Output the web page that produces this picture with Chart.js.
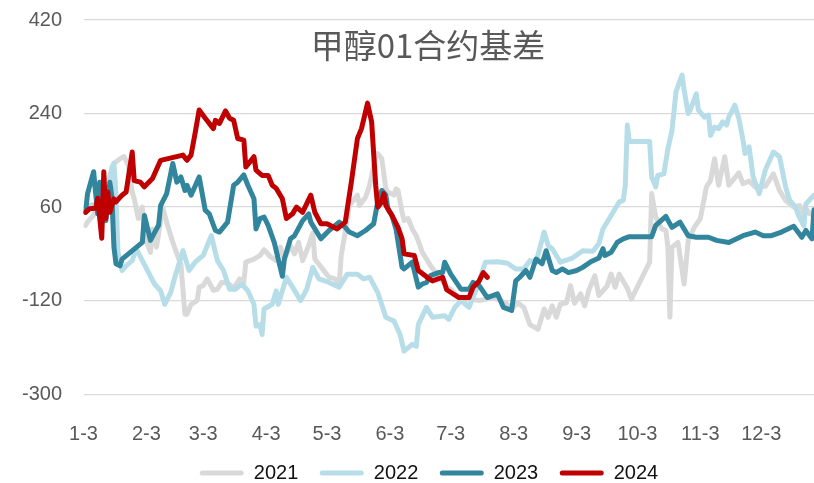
<!DOCTYPE html>
<html>
<head>
<meta charset="utf-8">
<script src="https://cdn.jsdelivr.net/npm/chart.js@4.4.1/dist/chart.umd.min.js"></script>
<style>
    body { margin: 0; background: #ffffff; }
    #wrap { width: 814px; height: 483px; position: relative; }
</style>
</head>
<body>
<div id="wrap"><canvas id="basisChart"></canvas></div>
<script>
// 甲醇01合约基差：按年份的季节性对比
const chartTitle = "甲醇01合约基差";
const seriesNames = ["2021", "2022", "2023", "2024"];
const seriesColors = ["#D9D9D9", "#B7DEE8", "#31859C", "#C00000"];
const tickLabels = ["1-3", "2-3", "3-3", "4-3", "5-3", "6-3", "7-3", "8-3", "9-3", "10-3", "11-3", "12-3"];
const yTicks = [-300, -120, 60, 240, 420];

// x 为距 1月3日 的天数
const days2021 = [1, 2, 5, 9, 12, 15, 18, 20, 22, 24, 25, 27, 29, 30, 33, 34, 36, 39, 41, 44, 47, 48, 50, 51, 53, 56, 57, 59, 61, 64, 66, 68, 71, 74, 77, 79, 80, 84, 87, 89, 92, 95, 97, 99, 102, 104, 106, 108, 111, 113, 114, 117, 121, 124, 126, 127, 129, 131, 135, 136, 139, 141, 144, 145, 147, 149, 150, 153, 154, 155, 157, 158, 160, 162, 164, 167, 170, 171, 176, 179, 181, 184, 188, 191, 195, 202, 208, 211, 214, 217, 220, 224, 227, 229, 231, 233, 235, 238, 240, 242, 245, 247, 249, 252, 254, 258, 260, 262, 264, 268, 270, 279, 280, 282, 285, 287, 288, 289, 290, 293, 296, 298, 301, 304, 307, 309, 311, 313, 316, 318, 323, 325, 328, 331, 333, 336, 340, 343, 346, 350, 353, 355, 356, 358, 360];
const values2021 = [25, 31, 45, 75, 110, 144, 153, 157, 141, 89, 76, 38, 60, 5, -27, 18, -17, 60, 31, -8, -40, -50, -146, -146, -127, -120, -94, -91, -78, -100, -98, -85, -86, -96, -78, -85, -46, -40, -33, -22, -35, -43, -17, -40, -14, -30, -8, -43, -14, 10, -40, -55, -75, -78, -91, -33, 12, 63, 83, 63, 79, 102, 157, 163, 153, 95, 89, 83, 95, 92, 50, 34, 38, 18, 5, -27, -46, -53, -78, -94, -98, -110, -120, -117, -120, -114, -124, -136, -124, -133, -166, -175, -136, -152, -130, -152, -127, -124, -91, -125, -107, -130, -100, -72, -110, -92, -69, -94, -69, -96, -117, -46, 86, 41, 18, 15, -17, -152, -17, -8, -88, -4, 21, 38, 99, 111, 153, 102, 157, 102, 126, 105, 110, 99, 99, 100, 124, 92, 73, 60, 63, 41, 57, 47, 45];

const days2022 = [0, 5, 9, 11, 14, 15, 16, 17, 19, 21, 24, 26, 29, 35, 38, 40, 43, 45, 49, 52, 55, 59, 63, 66, 69, 72, 75, 78, 81, 84, 85, 87, 88, 89, 93, 95, 96, 100, 103, 107, 110, 113, 116, 121, 126, 130, 135, 138, 141, 145, 149, 153, 156, 158, 162, 164, 165, 169, 172, 178, 180, 183, 186, 190, 194, 198, 204, 209, 213, 217, 220, 223, 227, 229, 231, 235, 241, 246, 251, 254, 256, 261, 264, 266, 267, 268, 269, 279, 280, 282, 283, 286, 288, 290, 292, 295, 296, 298, 299, 302, 303, 306, 308, 309, 311, 313, 315, 317, 318, 321, 323, 325, 326, 328, 330, 333, 336, 337, 340, 343, 346, 348, 351, 352, 355, 356, 359, 360];
const values2022 = [60, 65, 55, 57, 137, 144, 83, -27, -62, -53, -43, -20, -43, -88, -101, -127, -104, -75, -24, -62, -46, -33, 5, -43, -62, -98, -98, -88, -101, -127, -169, -166, -185, -136, -127, -101, -127, -75, -94, -120, -98, -56, -78, -85, -94, -69, -69, -78, -75, -104, -152, -159, -185, -217, -204, -208, -166, -133, -152, -149, -156, -133, -120, -133, -94, -46, -45, -48, -59, -59, -43, -46, 12, -14, -20, -46, -38, -24, -25, -10, 18, 50, 70, 73, 102, 218, 186, 186, 118, 99, 121, 124, 172, 207, 282, 314, 285, 240, 247, 278, 247, 233, 237, 198, 214, 211, 224, 218, 233, 256, 230, 189, 163, 176, 118, 86, 131, 140, 166, 157, 99, 73, 60, 47, 24, 66, 79, 83];

const days2023 = [1, 2, 5, 6, 7, 8, 10, 11, 13, 14, 15, 16, 18, 19, 29, 30, 33, 36, 37, 38, 41, 44, 46, 48, 50, 51, 53, 57, 60, 62, 65, 67, 71, 74, 76, 79, 81, 84, 85, 87, 89, 91, 94, 98, 99, 102, 104, 108, 111, 112, 117, 121, 126, 129, 131, 135, 139, 143, 145, 147, 149, 150, 152, 154, 157, 158, 162, 165, 167, 169, 171, 175, 177, 178, 181, 186, 190, 192, 195, 199, 204, 207, 211, 213, 215, 218, 220, 223, 226, 228, 231, 233, 236, 239, 243, 246, 250, 254, 256, 257, 260, 263, 266, 269, 280, 282, 287, 290, 294, 298, 302, 308, 312, 318, 325, 331, 335, 339, 344, 350, 354, 356, 359, 360];
const values2023 = [50, 86, 128, 86, 47, 108, 66, 34, 108, 79, -17, -49, -53, -40, -8, 44, -4, 18, 25, 63, 86, 144, 108, 118, 92, 102, 83, 118, 54, 47, 15, 12, 31, 102, 108, 122, 102, 76, 18, 38, 41, 25, -8, -73, -40, -1, 5, 34, 47, 31, -1, 15, 31, 21, 12, 5, 15, 28, 70, 92, 83, 57, 44, 18, -56, -59, -46, -94, -88, -85, -72, -66, -66, -46, -69, -98, -98, -85, -91, -114, -107, -133, -139, -82, -75, -62, -75, -40, -49, -24, -62, -66, -59, -66, -62, -56, -45, -38, -20, -33, -27, -8, -1, 3, 3, 25, 42, 21, 31, 5, 2, 2, -4, -8, 5, 12, 5, 5, 12, 23, 2, 15, -1, 55];

const days2024 = [1, 3, 6, 7, 9, 10, 11, 12, 13, 15, 16, 19, 21, 24, 25, 28, 30, 34, 38, 49, 51, 53, 55, 57, 60, 64, 65, 67, 70, 72, 74, 76, 79, 80, 84, 85, 88, 91, 93, 95, 98, 100, 103, 105, 108, 112, 114, 117, 120, 125, 129, 132, 135, 137, 140, 142, 144, 145, 147, 148, 149, 152, 155, 157, 158, 163, 165, 170, 172, 177, 179, 185, 190, 192, 195, 197, 199];
const values2024 = [50, 57, 58, 77, 0, 128, 38, 89, 50, 76, 70, 83, 89, 166, 111, 108, 99, 115, 150, 160, 150, 160, 202, 247, 231, 211, 227, 221, 245, 231, 227, 192, 189, 137, 157, 131, 121, 121, 102, 96, 76, 38, 47, 60, 50, 83, 50, 28, 28, 18, 31, 108, 192, 211, 260, 224, 102, 60, 70, 86, 63, 44, 21, -1, -30, -33, -62, -77, -82, -75, -99, -114, -114, -94, -82, -66, -75];

const seriesDays = [days2021, days2022, days2023, days2024];
const seriesValues = [values2021, values2022, values2023, values2024];

// 每月3日对应的天数位置
const tickDays = tickLabels.map(label => {
    const [m, d] = label.split("-").map(Number);
    return Math.round((Date.UTC(2023, m - 1, d) - Date.UTC(2023, 0, 3)) / 86400000);
});

function toPoints(days, values) {
    return days.map((d, i) => ({ x: d, y: values[i] }));
}

const datasets = seriesNames.map((name, i) => ({
    label: name,
    data: toPoints(seriesDays[i], seriesValues[i]),
    borderColor: seriesColors[i],
    backgroundColor: seriesColors[i],
    borderWidth: 5,
    borderJoinStyle: "round",
    borderCapStyle: "round",
    pointRadius: 0,
    tension: 0,
    fill: false,
    order: 3 - i, // 新的年份画在上面
}));

// 图表标题叠在绘图区内，图例整体往右挪一点
const titlePlugin = {
    id: "chartTitle",
    afterLayout(chart) {
        chart.legend.left += 44;
    },
    afterDraw(chart) {
        const ctx = chart.ctx;
        ctx.save();
        ctx.font = '33px "Noto Sans CJK SC"';
        ctx.fillStyle = "#595959";
        ctx.textAlign = "center";
        ctx.textBaseline = "middle";
        ctx.fillText(chartTitle, 428, 45);
        ctx.restore();
    },
};

const ctx = document.getElementById("basisChart").getContext("2d");
new Chart(ctx, {
    type: "line",
    data: { datasets },
    plugins: [titlePlugin],
    options: {
        responsive: true,
        maintainAspectRatio: false,
        animation: false,
        layout: { padding: { top: 20, left: 0, right: 0, bottom: -10 } },
        scales: {
            x: {
                type: "linear",
                min: 0,
                max: 360,
                afterBuildTicks: (scale) => {
                    scale.ticks = tickDays.map(v => ({ value: v }));
                },
                afterFit: (scale) => { scale.height = 47.3; },
                grid: { display: false },
                border: { display: false },
                ticks: {
                    autoSkip: false,
                    maxRotation: 0,
                    padding: 20,
                    color: "#595959",
                    font: { family: "Liberation Sans", size: 20 },
                    callback: (value, index) => tickLabels[index],
                },
            },
            y: {
                min: yTicks[0],
                max: yTicks[yTicks.length - 1],
                afterBuildTicks: (scale) => {
                    scale.ticks = yTicks.map(v => ({ value: v }));
                },
                afterFit: (scale) => {
                    scale.width = 83.5;
                    // 标签留白不挤占绘图区
                    scale.paddingTop = 0;
                    scale.paddingBottom = 0;
                },
                grid: { color: "#D9D9D9", lineWidth: 1.3, drawTicks: false },
                border: { display: false },
                ticks: {
                    padding: 21.5,
                    color: "#595959",
                    font: { family: "Liberation Sans", size: 20 },
                },
            },
        },
        plugins: {
            tooltip: { enabled: false },
            legend: {
                position: "bottom",
                labels: {
                    boxWidth: 44,
                    boxHeight: 5,
                    padding: 21.5,
                    color: "#111111",
                    font: { family: "Liberation Sans", size: 20 },
                    sort: (a, b) => a.datasetIndex - b.datasetIndex,
                    generateLabels: (chart) =>
                        Chart.defaults.plugins.legend.labels.generateLabels(chart).map(item => ({
                            ...item,
                            fillStyle: item.strokeStyle,
                            lineWidth: 0,
                            borderRadius: 2.5,
                        })),
                },
            },
        },
    },
});
</script>
</body>
</html>
